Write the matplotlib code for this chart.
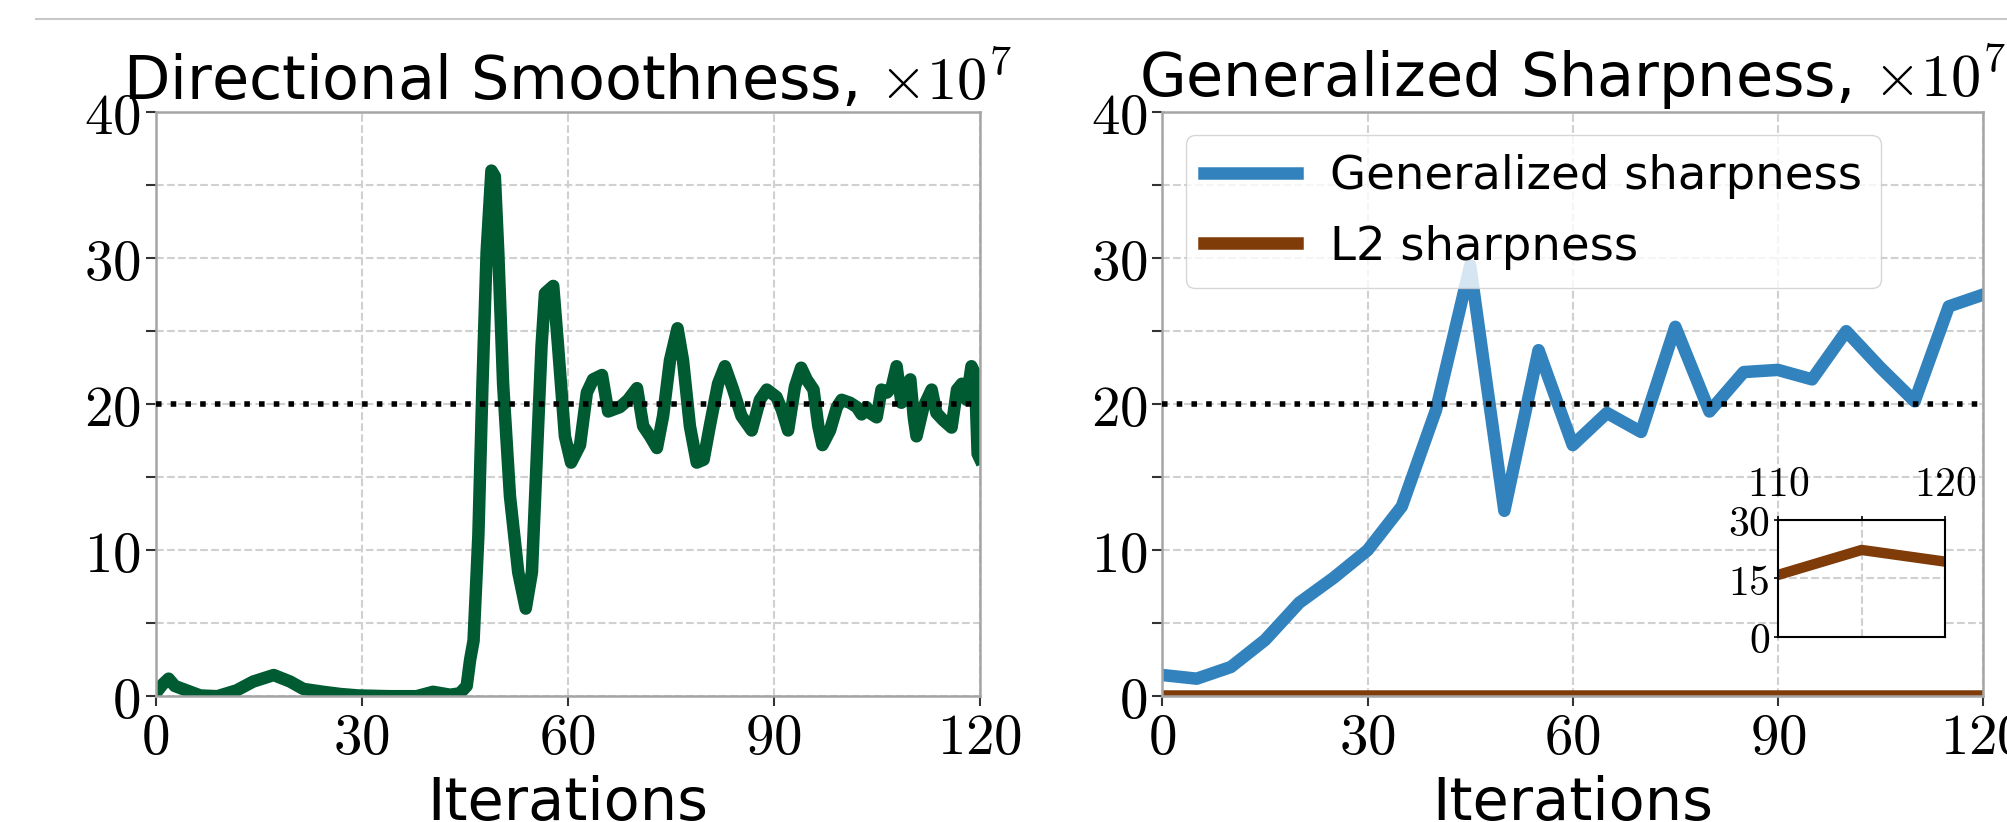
import numpy as np
import matplotlib
matplotlib.use("Agg")
import matplotlib.pyplot as plt
from matplotlib.ticker import FixedLocator, MultipleLocator, FuncFormatter
from matplotlib.lines import Line2D

plt.rcParams['mathtext.fontset'] = 'cm'
plt.rcParams['font.family'] = ['DejaVu Sans']

# ---------------- data ----------------
# Directional smoothness (x 1e7)
ds_iters = [0.0, 1.0, 1.9, 2.8, 4.5, 6.5, 9.0, 11.8, 14.2, 17.2, 19.6, 21.5, 24.4, 26.9,
            29.5, 34.0, 38.0, 40.4, 42.9, 44.3, 45.3, 45.8, 46.3, 47.0, 47.6, 48.2, 48.9,
            49.4, 49.9, 50.6, 51.6, 52.8, 53.9, 54.8, 55.5, 56.2, 56.7, 57.9, 58.6, 59.6,
            60.5, 61.8, 62.8, 63.7, 65.0, 65.9, 67.6, 68.8, 70.1, 71.0, 72.0, 73.0, 73.9,
            74.9, 76.0, 76.8, 77.8, 78.8, 79.8, 80.7, 81.9, 82.9, 84.1, 85.3, 86.8, 88.0,
            89.0, 90.4, 91.2, 92.1, 93.1, 94.0, 94.8, 95.8, 96.5, 97.1, 98.2, 99.2, 99.9,
            101.1, 102.1, 102.8, 103.5, 104.0, 105.0, 105.7, 106.5, 107.2, 107.9, 108.6,
            109.1, 109.9, 110.4, 110.8, 111.8, 113.0, 113.7, 114.7, 115.9, 116.7, 117.4,
            118.1, 118.8, 119.3, 119.7, 120.0]
ds_values = [0.2, 0.8, 1.2, 0.7, 0.4, 0.05, 0.0, 0.4, 1.0, 1.45, 1.0, 0.5, 0.3, 0.15,
             0.05, 0.0, 0.0, 0.3, 0.1, 0.2, 0.7, 2.5, 3.8, 11.0, 21.4, 30.4, 36.0,
             35.6, 30.4, 21.4, 13.7, 8.5, 6.0, 8.5, 16.3, 24.0, 27.6, 28.1, 24.0, 17.8,
             16.0, 17.2, 20.8, 21.7, 22.0, 19.5, 19.8, 20.3, 21.1, 18.5, 17.8, 17.0, 19.2,
             23.0, 25.2, 23.0, 18.5, 16.0, 16.2, 18.5, 21.4, 22.6, 21.0, 19.2, 18.2, 20.3,
             21.0, 20.5, 19.6, 18.2, 21.2, 22.5, 21.7, 21.0, 18.5, 17.2, 18.2, 19.8, 20.3,
             20.1, 19.8, 19.3, 19.8, 19.4, 19.1, 21.0, 20.8, 21.2, 22.6, 20.1,
             21.2, 21.7, 19.1, 17.8, 19.8, 21.0, 19.4, 18.9, 18.4, 21.0, 21.4,
             20.3, 22.6, 22.1, 16.6, 16.3]

# Generalized / L2 sharpness (x 1e7), every 5 iterations
gs_iters = [0, 5, 10, 15, 20, 25, 30, 35, 40, 45, 50, 55, 60, 65, 70, 75, 80, 85, 90,
            95, 100, 105, 110, 115, 120]
gs_values = [1.45, 1.2, 2.0, 3.85, 6.4, 8.1, 10.0, 13.0, 19.6, 29.5, 12.7, 23.7, 17.2,
             19.4, 18.1, 25.3, 19.5, 22.2, 22.35, 21.7, 25.0, 22.5, 20.2, 26.7, 27.5]
l2_values = [0.0] * 25

# Inset: L2 sharpness (unscaled) at the last iterations
l2_inset_iters = [110, 115, 120]
l2_inset_values = [15.9, 22.3, 19.3]

x_ticks = [0, 30, 60, 90, 120]
y_ticks = [0, 10, 20, 30, 40]
threshold = 20

GREEN = '#005a32'
BLUE = '#3182bd'
BROWN = '#7f3b08'
LW = 9

# ---------------- figure ----------------
W, H = 2008, 822
fig = plt.figure(figsize=(W / 100, H / 100), dpi=100)


def px_axes(x0, y0, x1, y1):
    return fig.add_axes([x0 / W, 1 - y1 / H, (x1 - x0) / W, (y1 - y0) / H])


fmt = FuncFormatter(lambda v, p: f'${v:g}$')


def style(ax, title):
    ax.set_xlim(0, 120)
    ax.set_ylim(0, 40)
    ax.xaxis.set_major_locator(FixedLocator(x_ticks))
    ax.yaxis.set_major_locator(FixedLocator(y_ticks))
    ax.yaxis.set_minor_locator(MultipleLocator(5))
    ax.xaxis.set_major_formatter(fmt)
    ax.yaxis.set_major_formatter(fmt)
    ax.tick_params(which='both', direction='out', length=7, width=1.5,
                   color='#333333', labelsize=41, pad=4)
    ax.grid(True, which='both', linestyle='--', color='#d0d0d0', linewidth=1.5)
    ax.set_axisbelow(True)
    for s in ax.spines.values():
        s.set_color('#a5a5a5')
        s.set_linewidth(1.8)
    ax.axhline(threshold, color='black', linestyle=':', linewidth=4, zorder=4)
    ax.set_xlabel('Iterations', fontsize=42.5, labelpad=6)
    ax.set_title(title, fontsize=43.5, pad=9)


ax1 = px_axes(155.6, 112.2, 979.7, 696.2)
ax1.plot(ds_iters, ds_values, color=GREEN, linewidth=LW, solid_joinstyle='round')
style(ax1, 'Directional Smoothness, $\\times 10^7$')

ax2 = px_axes(1162.5, 112.2, 1983.0, 696.2)
ax2.plot(gs_iters, gs_values, color=BLUE, linewidth=LW, label='Generalized sharpness')
ax2.plot(gs_iters, l2_values, color=BROWN, linewidth=LW, label='L2 sharpness')
style(ax2, 'Generalized Sharpness, $\\times 10^7$')
ax2.legend(loc='upper left', fontsize=33.5, handlelength=2.0, handletextpad=0.7,
           framealpha=0.8, borderaxespad=0.5, edgecolor='#cccccc', labelspacing=0.55)

axin = px_axes(1778.3, 520.0, 1945.0, 636.7)
axin.plot(l2_inset_iters, l2_inset_values, color=BROWN, linewidth=7.5)
axin.set_xlim(110, 120)
axin.set_ylim(0, 30)
axin.set_xticks([110, 115, 120])
axin.set_xticklabels(['$110$', '', '$120$'])
axin.set_yticks([0, 15, 30])
axin.yaxis.set_major_formatter(fmt)
axin.xaxis.tick_top()
axin.tick_params(labelsize=30, length=3, width=1.2, pad=3, color='black')
axin.tick_params(axis='x', pad=8)
axin.grid(True, linestyle='--', color='#d0d0d0', linewidth=1.5)
axin.set_axisbelow(True)
for s in axin.spines.values():
    s.set_color('black')
    s.set_linewidth(1.5)

fig.add_artist(Line2D([36 / W, 1.0], [1 - 19 / H, 1 - 19 / H], transform=fig.transFigure,
                      color='#c8c8c8', linewidth=1.5))

fig.savefig('out.png', dpi=100)
